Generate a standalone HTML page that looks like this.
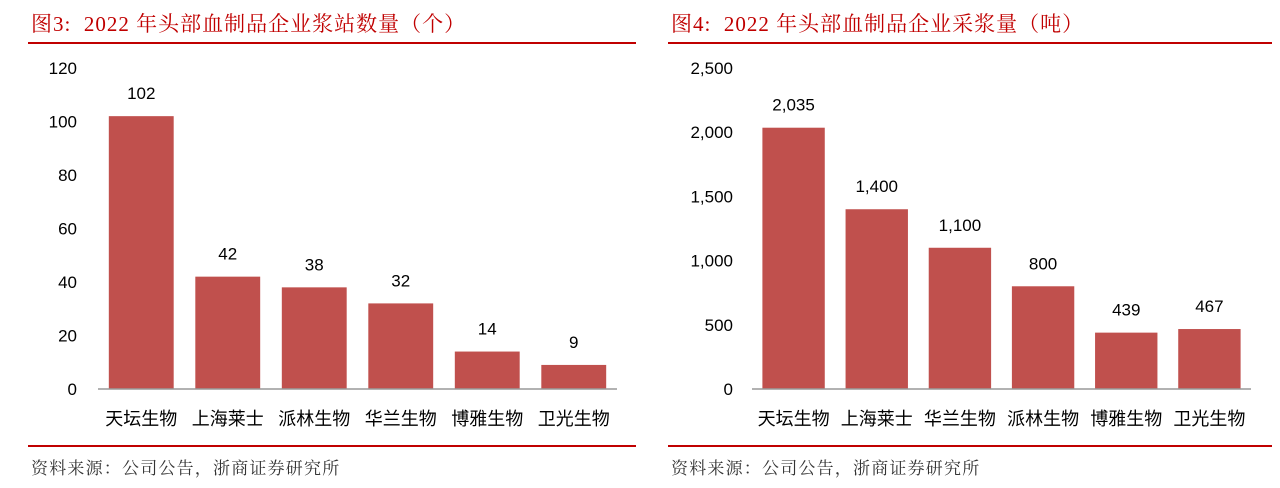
<!DOCTYPE html>
<html><head><meta charset="utf-8"><style>
body{margin:0;width:1280px;height:488px;background:#fff;overflow:hidden;font-family:"Liberation Sans","Noto Sans CJK SC",sans-serif}
.t{position:absolute;top:8px;font-family:"Liberation Serif","Noto Serif CJK SC",serif;font-size:21px;letter-spacing:1px;color:#c00000;white-space:nowrap}
.src{position:absolute;top:454px;font-family:"Liberation Serif","Noto Serif CJK SC",serif;font-size:17px;letter-spacing:1.2px;color:#333;white-space:nowrap}
.rl{position:absolute;height:2px;background:#c00000}
</style></head><body>
<div class="t" style="left:31px">图3:&nbsp;&nbsp;2022 年头部血制品企业浆站数量（个）</div>
<div class="t" style="left:671px">图4:&nbsp;&nbsp;2022 年头部血制品企业采浆量（吨）</div>
<div class="rl" style="left:28px;width:608px;top:42px"></div>
<div class="rl" style="left:668px;width:604px;top:42px"></div>
<div class="rl" style="left:28px;width:608px;top:445px"></div>
<div class="rl" style="left:668px;width:604px;top:445px"></div>
<div class="src" style="left:31px">资料来源：公司公告，浙商证券研究所</div>
<div class="src" style="left:671px">资料来源：公司公告，浙商证券研究所</div>
<svg id="svg" width="1280" height="488" style="position:absolute;left:0;top:0"></svg>
<script>
const cats1=["天坛生物","上海莱士","派林生物","华兰生物","博雅生物","卫光生物"];
const vals1=[102,42,38,32,14,9];
const ticks1=[0,20,40,60,80,100,120];
const cats2=["天坛生物","上海莱士","华兰生物","派林生物","博雅生物","卫光生物"];
const vals2=[2035,1400,1100,800,439,467];
const ticks2=[0,500,1000,1500,2000,2500];
const NS="http://www.w3.org/2000/svg";
const svg=document.getElementById('svg');
function mk(t,a,txt){const e=document.createElementNS(NS,t);for(const k in a)e.setAttribute(k,a[k]);if(txt!=null)e.textContent=txt;svg.appendChild(e);return e;}
function chart(cats,vals,ticks,o){
  const y=v=>o.y0-(v/ticks[ticks.length-1])*(o.y0-o.yTop);
  const slot=(o.x1-o.x0)/cats.length;
  ticks.forEach(t=>{
    const e=mk('text',{x:o.lx,y:y(t)+6,'text-anchor':'end','font-size':17,fill:'#000'},t.toLocaleString('en-US'));
    
    
  });
  cats.forEach((c,i)=>{
    const cx=o.x0+slot*(i+0.5),bw=slot*0.75;
    const r=mk('rect',{x:cx-bw/2,y:y(vals[i]),width:bw,height:o.y0-y(vals[i]),fill:'#c0504d'});
    
    
    const v=mk('text',{x:cx,y:y(vals[i])-17,'text-anchor':'middle','font-size':17,fill:'#000'},vals[i].toLocaleString('en-US'));
    
    
    const l=mk('text',{x:cx,y:o.y0+36,'text-anchor':'middle','font-size':18,fill:'#000'},c);
    
    
  });
  const ax=mk('line',{x1:o.x0,x2:o.x1,y1:o.y0,y2:o.y0,stroke:'#999','stroke-width':1.5});
  
  
}
chart(cats1,vals1,ticks1,{x0:98,x1:617,y0:389,yTop:68,lx:77});
chart(cats2,vals2,ticks2,{x0:752,x1:1251,y0:389,yTop:68,lx:733});
</script>
</body></html>
